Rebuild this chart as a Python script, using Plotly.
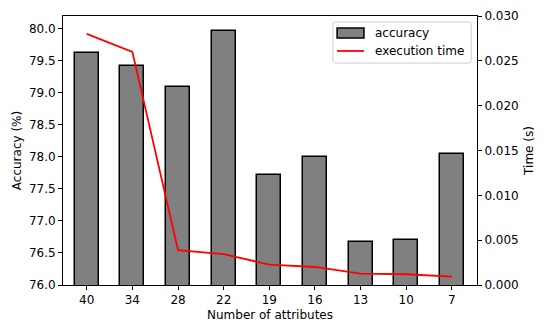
import plotly.graph_objects as go

categories = ["40", "34", "28", "22", "19", "16", "13", "10", "7"]
accuracy = [79.63, 79.42, 79.09, 79.96, 77.71, 78.00, 76.67, 76.71, 78.05]
exec_time = [0.0280, 0.0260, 0.00388, 0.00344, 0.00228, 0.00201, 0.00127, 0.00120, 0.00094]

acc_ticks = [76.0 + 0.5 * i for i in range(9)]
time_ticks = [0.005 * i for i in range(7)]
legend_labels = ["accuracy", "execution time"]

font = dict(family="DejaVu Sans", size=12, color="black")

fig = go.Figure()
fig.add_trace(go.Bar(
    x=list(range(len(categories))), y=accuracy, name=legend_labels[0],
    marker=dict(color="#808080", line=dict(color="black", width=1.5)),
    width=0.53, yaxis="y",
))
fig.add_trace(go.Scatter(
    x=list(range(len(categories))), y=exec_time, name=legend_labels[1],
    mode="lines", line=dict(color="red", width=1.8), yaxis="y2",
))

# custom legend (matplotlib style)
def rounded_rect(x0, y0, x1, y1, rx, ry):
    return (f"M {x0+rx},{y0} L {x1-rx},{y0} Q {x1},{y0} {x1},{y0+ry} "
            f"L {x1},{y1-ry} Q {x1},{y1} {x1-rx},{y1} L {x0+rx},{y1} "
            f"Q {x0},{y1} {x0},{y1-ry} L {x0},{y0+ry} Q {x0},{y0} {x0+rx},{y0} Z")

shapes = [
    dict(type="path", xref="paper", yref="paper",
         path=rounded_rect(0.652, 0.825, 0.986, 0.978, 0.007, 0.011),
         fillcolor="rgba(255,255,255,0.8)", line=dict(color="#cccccc", width=1)),
    dict(type="rect", xref="paper", yref="paper", x0=0.662, x1=0.727, y0=0.918, y1=0.955,
         fillcolor="#808080", line=dict(color="black", width=1.5)),
    dict(type="line", xref="paper", yref="paper", x0=0.662, x1=0.727, y0=0.870, y1=0.870,
         line=dict(color="red", width=1.8)),
]
annotations = [
    dict(xref="paper", yref="paper", x=0.749, y=0.937, text=legend_labels[0],
         showarrow=False, xanchor="left", yanchor="middle", font=font),
    dict(xref="paper", yref="paper", x=0.749, y=0.870, text=legend_labels[1],
         showarrow=False, xanchor="left", yanchor="middle", font=font),
]

fig.update_layout(
    width=550, height=330,
    margin=dict(l=63, r=73, t=16, b=45),
    paper_bgcolor="white", plot_bgcolor="white",
    font=font,
    bargap=0,
    showlegend=False,
    shapes=shapes,
    annotations=annotations,
    xaxis=dict(
        range=[-0.52, 8.55], tickmode="array",
        tickvals=list(range(len(categories))), ticktext=categories,
        showline=True, linecolor="black", linewidth=1, mirror=True,
        ticks="outside", ticklen=4, tickcolor="black", showgrid=False, zeroline=False,
        automargin=False,
        title=dict(text="Number of attributes", standoff=4, font=font),
    ),
    yaxis=dict(
        range=[76.0, 80.2], tickmode="array", tickvals=acc_ticks,
        ticktext=[f"{v:.1f}" for v in acc_ticks],
        showline=True, linecolor="black", linewidth=1,
        ticks="outside", ticklen=4, tickcolor="black", showgrid=False, zeroline=False,
        automargin=False,
        title=dict(text="Accuracy (%)", standoff=4, font=font),
    ),
    yaxis2=dict(
        range=[0, 0.030], overlaying="y", side="right", tickmode="array",
        tickvals=time_ticks, ticktext=[f"{v:.3f}" for v in time_ticks],
        showline=True, linecolor="black", linewidth=1,
        ticks="outside", ticklen=4, tickcolor="black", showgrid=False, zeroline=False,
        automargin=False,
        title=dict(text="Time (s)", standoff=6, font=font),
    ),
)

fig.write_html("out.html", config={"displayModeBar": False},
               post_script="document.body.style.margin='0';")
